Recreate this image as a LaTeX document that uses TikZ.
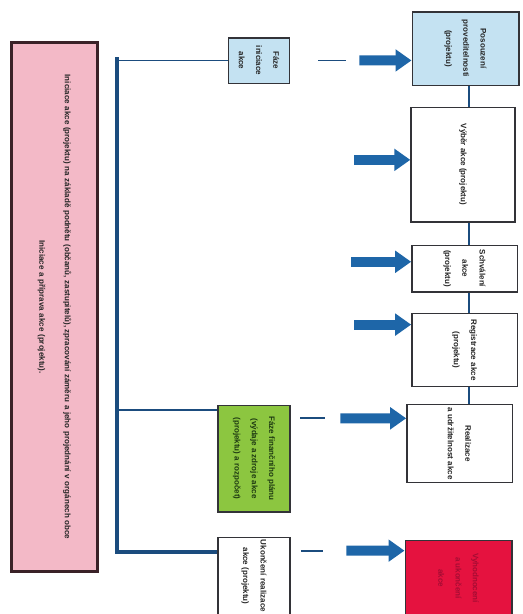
\documentclass[tikz,border=0pt]{standalone}
\usepackage{fontspec}
\setmainfont{Liberation Sans}
\usetikzlibrary{arrows.meta, calc}

\definecolor{pinkfill}{HTML}{F3B9C7}
\definecolor{pinkline}{HTML}{3A2228}
\definecolor{bluefill}{HTML}{C4E2F2}
\definecolor{greenfill}{HTML}{8CC640}
\definecolor{greentext}{HTML}{1E3A12}
\definecolor{redfill}{HTML}{E5123F}
\definecolor{redtext}{HTML}{A50C33}
\definecolor{boxline}{HTML}{333338}
\definecolor{busblue}{HTML}{1B4C7E}
\definecolor{arrowblue}{HTML}{1E66A8}

\begin{document}
\begin{tikzpicture}[x=0.75pt, y=-0.75pt,
    every node/.style={font=\bfseries\fontsize{6}{13}\selectfont, text=black!85},
    box/.style={draw=boxline, line width=1pt, rotate=-90, align=center, inner sep=2pt},
    bus/.style={draw=busblue, line width=3.2pt},
    branch/.style={draw=busblue, line width=1.4pt},
    link/.style={draw=busblue, line width=1.6pt},
    flow/.style={draw=arrowblue, line width=7.5pt, -{Triangle[width=16pt, length=12pt]}}]
    \useasboundingbox (0,0) rectangle (523,614);

    % Long box on the left
    \node[box, draw=pinkline, line width=2.2pt, fill=pinkfill, minimum width=397pt, minimum height=64pt, text width=385pt] (init) at (54.5,307)
        {Iniciace akce (projektu) na základě podnětu (občanů, zastupitelů), zpracování záměru a jeho projednání v orgánech obce\\[6pt]
         Iniciace a příprava akce (projektu).};

    % Middle column
    \node[box, fill=bluefill, minimum width=34pt, minimum height=46pt] (prep) at (259,60.5) {Fáze\\ iniciace\\ akce};
    \node[box, fill=greenfill, minimum width=80pt, minimum height=54pt, text=greentext] (fin) at (254,458.5)
        {Fáze finančního plánu\\ (výdaje a zdroje akce\\ (projektu) a rozpočet)};
    \node[box, fill=white, minimum width=54pt, minimum height=54pt] (close) at (254,576) {Ukončení realizace\\ akce (projektu)};

    % Right column
    \node[box, fill=bluefill, minimum width=55pt, minimum height=80pt] (feas) at (465.5,48.5) {Posouzení\\ proveditelnosti\\ (projektu)};
    \node[box, fill=white, minimum width=86pt, minimum height=78pt] (sel) at (463,164.5) {Výběr akce (projektu)};
    \node[box, fill=white, minimum width=35pt, minimum height=79pt] (appr) at (464.5,268.5) {Schválení\\ akce\\ (projektu)};
    \node[box, fill=white, minimum width=55pt, minimum height=79pt] (reg) at (464.5,350) {Registrace akce\\ (projektu)};
    \node[box, fill=white, minimum width=55pt, minimum height=79pt] (real) at (459.5,443.5) {Realizace\\ a udržitelnost akce};
    \node[box, fill=redfill, minimum width=56pt, minimum height=80pt, text=redtext] (eval) at (458.5,578) {Vyhodnocení\\ a ukončení\\ akce};

    % Bus line with branches
    \coordinate (bus) at (117,57);
    \coordinate (busend) at (117,552);
    \draw[bus] (bus) -- (busend) -- (busend -| close.south);
    \draw[branch] (prep.south) -- (prep.south -| bus);
    \coordinate (g) at ($(fin.south west)!0.05!(fin.south east)$);
    \draw[branch] (g) -- (g -| bus);

    % Links in the right column
    \coordinate (col) at (469,0);
    \foreach \a/\b in {feas/sel, sel/appr, appr/reg, reg/real}
    {
        \draw[link] (\a.east -| col) -- (\b.west -| col);
    }

    % Dashes and arrows
    \coordinate (e1) at ($(feas.south west)!0.66!(feas.south east)$);
    \coordinate (s1) at (prep.north |- e1);
    \draw[branch] ($(s1)!0.23!(e1)$) -- ($(s1)!0.46!(e1)$);
    \draw[flow] ($(s1)!0.57!(e1)$) -- (e1);

    \coordinate (e2) at ($(sel.south west)!0.46!(sel.south east)$);
    \draw[flow] ($(e2)+(-56,0)$) -- (e2);
    \coordinate (e3) at ($(appr.south west)!0.36!(appr.south east)$);
    \draw[flow] ($(e3)+(-60,0)$) -- (e3);
    \coordinate (e4) at ($(reg.south west)!0.16!(reg.south east)$);
    \draw[flow] ($(e4)+(-57,0)$) -- (e4);

    \coordinate (e5) at ($(real.south west)!0.18!(real.south east)$);
    \coordinate (s5) at (fin.north |- e5);
    \draw[branch] ($(s5)!0.085!(e5)$) -- ($(s5)!0.3!(e5)$);
    \draw[flow] ($(s5)!0.43!(e5)$) -- (e5);

    \coordinate (e6) at ($(eval.south west)!0.14!(eval.south east)$);
    \coordinate (s6) at (close.north |- e6);
    \draw[branch] ($(s6)!0.09!(e6)$) -- ($(s6)!0.28!(e6)$);
    \draw[flow] ($(s6)!0.49!(e6)$) -- (e6);
\end{tikzpicture}
\end{document}
